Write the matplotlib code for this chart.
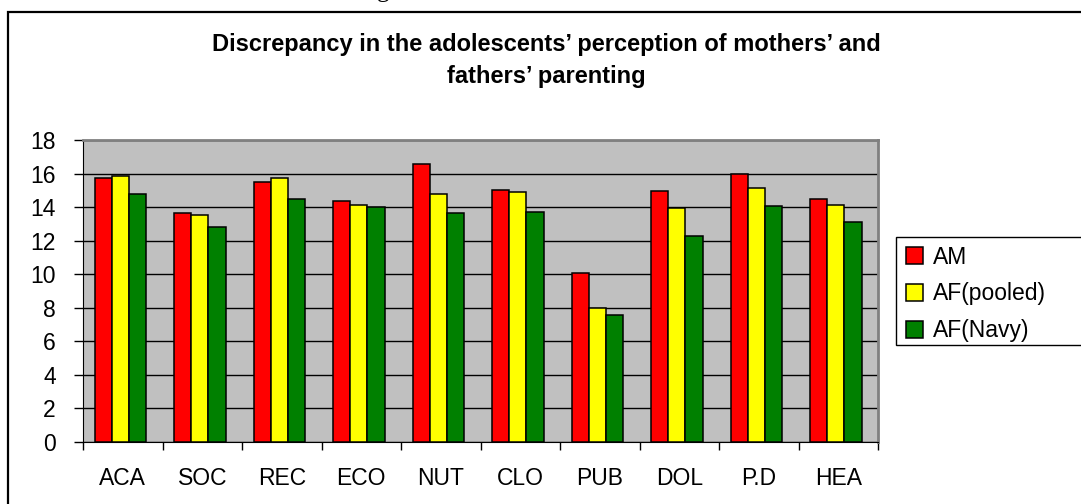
import numpy as np
import matplotlib.pyplot as plt
from matplotlib.patches import Rectangle

plt.rcParams['font.family'] = ['Liberation Sans', 'DejaVu Sans']

categories = ['ACA', 'SOC', 'REC', 'ECO', 'NUT', 'CLO', 'PUB', 'DOL', 'P.D', 'HEA']
am = [15.75, 13.63, 15.5, 14.34, 16.57, 15.04, 10.05, 14.94, 15.97, 14.5]
af_pooled = [15.85, 13.53, 15.75, 14.14, 14.78, 14.88, 7.99, 13.96, 15.12, 14.14]
af_navy = [14.78, 12.81, 14.5, 13.99, 13.63, 13.7, 7.55, 12.28, 14.05, 13.09]
series_names = ['AM', 'AF(pooled)', 'AF(Navy)']
colors = ['#FF0000', '#FFFF00', '#008000']

W, H = 1081, 504
fig = plt.figure(figsize=(W / 100, H / 100), dpi=100)

# outer chart frame (runs off the right and bottom edges)
fig.patches.append(Rectangle((8 / W, -0.05), 1.1, 1 - 12 / H + 0.05, transform=fig.transFigure,
                             fill=False, edgecolor='black', linewidth=1.6))
# descender of the caption above the chart
fig.text(383 / W, 1 + 3 / H, 'g', family='Liberation Serif', fontsize=18, ha='center', va='baseline')

ax = fig.add_axes([83 / W, 1 - 442 / H, (878 - 83) / W, (442 - 140) / H])
ax.set_facecolor('#C0C0C0')

x = np.arange(len(categories))
bw = 0.215
for i, (vals, name, c) in enumerate(zip([am, af_pooled, af_navy], series_names, colors)):
    ax.bar(x + (i - 1) * bw - 0.03, vals, width=bw, color=c, edgecolor='black', linewidth=1.1,
           label=name, zorder=3)

ax.set_xlim(-0.5, len(categories) - 0.5)
ax.set_ylim(0, 18)
ax.set_yticks(np.arange(0, 19, 2))
ax.yaxis.grid(True, color='black', linewidth=1.0, zorder=0)
ax.set_axisbelow(True)

ax.set_xticks(x)
ax.set_xticklabels(categories)
ax.set_xticks(np.arange(-0.5, len(categories)), minor=True)
ax.tick_params(axis='x', which='major', length=0, pad=18, labelsize=16.5)
ax.tick_params(axis='x', which='minor', length=6, width=1, color='black')
ax.tick_params(axis='y', length=6.5, width=1, pad=13, labelsize=16.5)

ax.spines['left'].set_color('black')
ax.spines['bottom'].set_color('black')
ax.spines['top'].set_color('#808080')
ax.spines['right'].set_color('#808080')
for s in ['top', 'right']:
    ax.spines[s].set_linewidth(2)

fig.text(546 / W, 1 - 61 / H, "Discrepancy in the adolescents\u2019 perception of mothers\u2019 and\nfathers\u2019 parenting",
         ha='center', va='center', fontsize=17, fontweight='bold', linespacing=1.5)

# legend box runs off the right edge like the reference
fig.patches.append(Rectangle((896 / W, 1 - 345 / H), 0.2, 108 / H, transform=fig.transFigure,
                             facecolor='white', edgecolor='black', linewidth=1.0))
leg = fig.legend(loc='upper left', bbox_to_anchor=(900 / W, 1 - 240 / H), fontsize=16.5,
                 frameon=False, handlelength=0.75, handleheight=0.75,
                 handletextpad=0.45, labelspacing=0.6, borderpad=0.25, borderaxespad=0)

plt.savefig('out.png', dpi=100)
